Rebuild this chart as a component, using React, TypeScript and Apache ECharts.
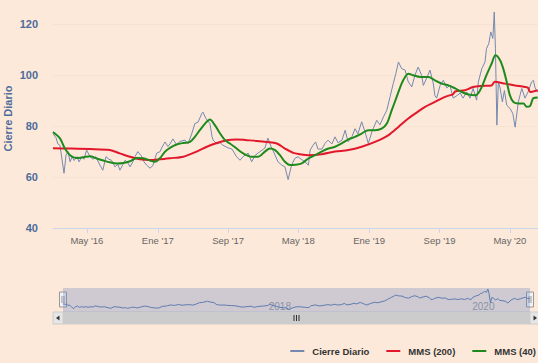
import React, { useEffect, useRef } from 'react';
import * as echarts from 'echarts';

const closeData: [string, number][] = [
  ['2016-01-05', 77], ['2016-01-15', 75.5], ['2016-01-22', 73], ['2016-01-29', 72.5],
  ['2016-02-05', 67], ['2016-02-12', 61.5], ['2016-02-19', 68.6], ['2016-02-26', 70],
  ['2016-03-04', 66], ['2016-03-11', 68], ['2016-03-18', 66.5], ['2016-03-28', 68],
  ['2016-04-04', 66], ['2016-04-14', 68], ['2016-04-21', 67], ['2016-04-30', 70.6],
  ['2016-05-12', 68], ['2016-05-22', 67], ['2016-06-01', 68], ['2016-06-15', 64.7],
  ['2016-06-25', 62.7], ['2016-07-06', 68], ['2016-07-16', 67], ['2016-07-25', 66.6],
  ['2016-08-06', 64], ['2016-08-16', 65], ['2016-08-23', 62.7], ['2016-09-03', 65],
  ['2016-09-10', 66.6], ['2016-09-20', 65.5], ['2016-09-27', 64], ['2016-10-07', 66],
  ['2016-10-14', 68], ['2016-10-24', 70], ['2016-11-04', 68.5], ['2016-11-14', 66],
  ['2016-11-23', 64.7], ['2016-12-05', 63.5], ['2016-12-15', 64.5], ['2016-12-28', 69.4],
  ['2017-01-09', 70], ['2017-01-14', 71.4], ['2017-01-26', 73.8], ['2017-02-05', 72],
  ['2017-02-12', 73], ['2017-02-22', 75], ['2017-03-07', 72.7], ['2017-03-18', 74],
  ['2017-04-05', 74.5], ['2017-04-15', 73], ['2017-04-28', 77], ['2017-05-09', 81],
  ['2017-05-20', 81.6], ['2017-06-02', 85], ['2017-06-06', 85.5], ['2017-06-16', 83],
  ['2017-06-30', 81], ['2017-07-07', 76], ['2017-07-11', 74.5], ['2017-07-24', 73],
  ['2017-08-04', 73.5], ['2017-08-14', 72.5], ['2017-08-31', 71.5], ['2017-09-14', 71],
  ['2017-09-30', 68], ['2017-10-12', 66.6], ['2017-10-22', 68], ['2017-11-09', 69.4],
  ['2017-11-21', 66], ['2017-12-03', 68.5], ['2017-12-20', 70], ['2018-01-06', 71.4],
  ['2018-01-16', 75.3], ['2018-01-27', 72], ['2018-02-10', 68.6], ['2018-02-20', 66],
  ['2018-03-05', 64.7], ['2018-03-16', 64], ['2018-03-27', 59], ['2018-04-08', 64.7],
  ['2018-04-19', 67.3], ['2018-04-30', 68], ['2018-05-11', 67], ['2018-05-24', 66],
  ['2018-06-05', 64.7], ['2018-06-11', 70.6], ['2018-06-21', 72.5], ['2018-06-30', 73.8],
  ['2018-07-08', 71], ['2018-07-22', 71], ['2018-08-01', 73.2], ['2018-08-12', 74.5],
  ['2018-08-25', 73], ['2018-09-05', 75.8], ['2018-09-15', 73.5], ['2018-09-29', 74.5],
  ['2018-10-10', 78.4], ['2018-10-20', 73.8], ['2018-11-03', 76], ['2018-11-13', 79],
  ['2018-11-23', 77], ['2018-12-06', 81.7], ['2018-12-17', 78], ['2018-12-29', 73.2],
  ['2019-01-11', 78], ['2019-01-27', 82.3], ['2019-02-07', 80.5], ['2019-02-19', 83.6],
  ['2019-03-03', 86.3], ['2019-03-14', 91.5], ['2019-03-25', 96.7], ['2019-04-03', 100.6],
  ['2019-04-12', 105.2], ['2019-04-23', 102.6], ['2019-05-05', 102], ['2019-05-16', 97.4],
  ['2019-05-28', 95.4], ['2019-06-08', 100], ['2019-06-19', 103.2], ['2019-07-01', 100],
  ['2019-07-07', 96], ['2019-07-19', 99], ['2019-07-30', 102], ['2019-08-10', 97],
  ['2019-08-16', 92], ['2019-08-22', 91], ['2019-09-03', 96], ['2019-09-14', 98],
  ['2019-09-26', 95], ['2019-10-07', 96], ['2019-10-18', 91], ['2019-10-31', 92],
  ['2019-11-11', 93], ['2019-11-21', 91], ['2019-12-04', 93.4], ['2019-12-15', 91],
  ['2019-12-26', 94.8], ['2020-01-07', 90.2], ['2020-01-13', 97.4], ['2020-01-25', 102.6],
  ['2020-02-05', 105.2], ['2020-02-10', 110.4], ['2020-02-18', 112.4], ['2020-02-25', 117],
  ['2020-03-03', 114.4], ['2020-03-08', 124.8], ['2020-03-12', 110.4], ['2020-03-17', 80.4],
  ['2020-03-22', 97.4], ['2020-03-28', 95], ['2020-04-05', 89.5], ['2020-04-12', 94],
  ['2020-04-20', 88.2], ['2020-05-01', 87], ['2020-05-11', 85], ['2020-05-19', 79.6],
  ['2020-05-30', 89.5], ['2020-06-11', 94.8], ['2020-06-22', 91], ['2020-07-03', 93.5],
  ['2020-07-15', 97.4], ['2020-07-21', 98], ['2020-07-27', 95], ['2020-08-05', 93.4],
];

const mms200Data: [string, number][] = [
  ['2016-01-05', 71.3], ['2016-03-04', 71.2], ['2016-05-12', 71], ['2016-07-19', 70.6],
  ['2016-08-23', 69.3], ['2016-09-27', 68], ['2016-10-31', 67], ['2016-12-05', 66.7],
  ['2017-01-09', 67], ['2017-02-12', 67.4], ['2017-03-30', 68], ['2017-05-15', 70],
  ['2017-06-19', 71.9], ['2017-07-24', 73.4], ['2017-08-27', 74.5], ['2017-09-30', 74.8],
  ['2017-11-04', 74.5], ['2017-12-09', 74.2], ['2018-01-12', 73.8], ['2018-02-16', 73.2],
  ['2018-03-16', 71.2], ['2018-04-14', 69.5], ['2018-05-07', 69], ['2018-06-05', 68.6],
  ['2018-07-21', 69], ['2018-09-05', 70], ['2018-10-21', 70.6], ['2018-12-06', 71.9],
  ['2019-01-21', 73.8], ['2019-03-09', 76.5], ['2019-04-12', 79.7], ['2019-05-16', 83],
  ['2019-06-26', 86.3], ['2019-07-13', 87.6], ['2019-08-16', 89.5], ['2019-09-20', 91.5],
  ['2019-10-18', 92.6], ['2019-10-25', 93.6], ['2019-11-28', 94.1], ['2019-12-26', 95.4],
  ['2020-01-25', 95.8], ['2020-02-28', 96], ['2020-03-10', 97.4], ['2020-04-14', 96.7],
  ['2020-05-19', 96], ['2020-06-22', 95.4], ['2020-07-03', 95], ['2020-07-10', 93.4],
  ['2020-08-05', 94.1],
];

const mms40Data: [string, number][] = [
  ['2016-01-05', 77.7], ['2016-01-29', 75.2], ['2016-02-15', 71.2], ['2016-03-04', 68.6],
  ['2016-03-26', 67.5], ['2016-04-19', 67.8], ['2016-05-12', 68.2], ['2016-06-04', 67.3],
  ['2016-06-27', 66.5], ['2016-07-19', 65.8], ['2016-08-13', 65.3], ['2016-09-04', 65.5],
  ['2016-09-27', 66.2], ['2016-10-20', 67.5], ['2016-11-12', 67.4], ['2016-12-05', 66.5],
  ['2016-12-22', 66], ['2017-01-09', 67.5], ['2017-01-26', 70], ['2017-02-12', 71.5],
  ['2017-03-07', 72.8], ['2017-03-30', 73.4], ['2017-04-22', 73.8], ['2017-05-09', 75.8],
  ['2017-05-26', 78.4], ['2017-06-13', 81], ['2017-06-30', 82.6], ['2017-07-17', 80.4],
  ['2017-08-04', 77.1], ['2017-08-21', 74.5], ['2017-09-07', 73.2], ['2017-09-30', 71.2],
  ['2017-10-23', 69.3], ['2017-11-21', 68], ['2017-12-14', 68], ['2018-01-06', 70],
  ['2018-01-23', 71.2], ['2018-02-10', 70.6], ['2018-02-27', 68.6], ['2018-03-16', 66],
  ['2018-04-03', 64.7], ['2018-04-19', 64.8], ['2018-05-13', 65.4], ['2018-06-05', 67.3],
  ['2018-06-28', 68.6], ['2018-07-21', 70], ['2018-08-13', 71.2], ['2018-09-05', 71.9],
  ['2018-09-28', 73.2], ['2018-10-21', 74.8], ['2018-11-13', 75.8], ['2018-12-06', 77.1],
  ['2018-12-29', 78.4], ['2019-01-21', 78.4], ['2019-02-13', 79], ['2019-03-03', 81],
  ['2019-03-20', 86.3], ['2019-04-06', 91.5], ['2019-04-23', 96.7], ['2019-05-05', 99.3],
  ['2019-05-16', 100.6], ['2019-06-02', 100], ['2019-06-26', 99.3], ['2019-07-25', 99.3],
  ['2019-08-16', 98], ['2019-09-09', 96.7], ['2019-10-02', 96], ['2019-10-25', 94.8],
  ['2019-11-17', 93.4], ['2019-12-10', 92.4], ['2020-01-02', 92.1], ['2020-01-13', 93],
  ['2020-01-25', 95.4], ['2020-02-10', 100], ['2020-02-28', 104.6], ['2020-03-12', 107.8],
  ['2020-03-28', 105.9], ['2020-04-08', 102.6], ['2020-04-20', 97.4], ['2020-05-01', 92.1],
  ['2020-05-13', 89.5], ['2020-05-30', 88.9], ['2020-06-17', 88.9], ['2020-06-28', 87.6],
  ['2020-07-10', 88], ['2020-07-21', 91], ['2020-08-05', 91.2],
];

const xTickDates = ['2016-05-01', '2017-01-01', '2017-09-01', '2018-05-01', '2019-01-01', '2019-09-01', '2020-05-01'];
const xTickLabels = ["May '16", "Ene '17", "Sep '17", "May '18", "Ene '19", "Sep '19", "May '20"];
const navTickDates = ['2018-01-01', '2020-01-01'];
const navTickLabels = ['2018', '2020'];
const seriesNames = ['Cierre Diario', 'MMS (200)', 'MMS (40)'];
const yMin = 40;
const yMax = 126;
const yInterval = 20;
const xStart = '2016-01-05';
const xEnd = '2020-08-06';

const T = (s: string) => {
  const [y, m, d] = s.split('-').map(Number);
  return Date.UTC(y, m - 1, d);
};
const toPts = (arr: [string, number][]) => arr.map(([d, v]) => [T(d), v]);

const BG = '#fde9d9';
const CLOSE_C = '#7389b0';
const RED_C = '#e3172c';
const GREEN_C = '#1e8a1e';
const AXIS_C = '#4d6c9b';

export default function App() {
  const ref = useRef<HTMLDivElement>(null);
  useEffect(() => {
    if (!ref.current) return;
    const chart = echarts.init(ref.current, undefined, { renderer: 'svg' });
    const xTicks = xTickDates.map(T);
    const navTicks = navTickDates.map(T);
    const findLabel = (v: number, ticks: number[], labels: string[]) => {
      let best = -1, bd = Infinity;
      ticks.forEach((t, i) => { const dd = Math.abs(t - v); if (dd < bd) { bd = dd; best = i; } });
      return bd < 86400000 * 2 ? labels[best] : '';
    };
    const navL = 63, navR = 530, navTop = 288, navH = 24, sbTop = 312, sbH = 12;
    const handle = (cx: number) => ({
      type: 'group',
      children: [
        { type: 'rect', shape: { x: cx - 3.5, y: 292, width: 7, height: 15 }, style: { fill: '#f2f2f2', stroke: '#999', lineWidth: 1 } },
        { type: 'line', shape: { x1: cx - 1, y1: 296, x2: cx - 1, y2: 303 }, style: { stroke: '#999', lineWidth: 1 } },
        { type: 'line', shape: { x1: cx + 1, y1: 296, x2: cx + 1, y2: 303 }, style: { stroke: '#999', lineWidth: 1 } },
      ],
    });
    const gx = (navL + navR) / 2;
    const option: any = {
      animation: false,
      backgroundColor: BG,
      textStyle: { fontFamily: '"Liberation Sans", Arial, sans-serif' },
      legend: {
        data: seriesNames,
        top: 341,
        right: -3,
        icon: 'rect',
        itemWidth: 14,
        itemHeight: 2,
        itemGap: 17,
        textStyle: { fontSize: 9.5, fontWeight: 'bold', color: '#333', padding: [0, 0, 0, 3] },
      },
      grid: [
        { left: 53, right: 0, top: 9, height: 219, outerBoundsMode: 'none', containLabel: false },
        { left: navL, width: navR - navL, top: navTop, height: navH, outerBoundsMode: 'none', containLabel: false },
      ],
      xAxis: [
        {
          type: 'value',
          gridIndex: 0,
          min: T(xStart),
          max: T(xEnd),
          axisLine: { lineStyle: { color: '#ccd6eb', width: 1 } },
          axisTick: { show: true, length: 5, lineStyle: { color: '#ccd6eb' }, customValues: xTicks },
          axisLabel: {
            customValues: xTicks,
            color: '#666',
            fontSize: 9.5,
            margin: 7,
            formatter: (v: number) => findLabel(v, xTicks, xTickLabels),
          },
          splitLine: { show: false },
        },
        {
          type: 'value',
          gridIndex: 1,
          min: T(xStart),
          max: T(xEnd),
          axisLine: { show: false },
          axisTick: { show: false },
          axisLabel: {
            customValues: navTicks,
            inside: true,
            margin: 1,
            align: 'left',
            padding: [0, 0, 0, 3],
            color: '#999',
            fontSize: 10,
            formatter: (v: number) => findLabel(v, navTicks, navTickLabels),
          },
          splitLine: { show: false },
        },
      ],
      yAxis: [
        {
          type: 'value',
          gridIndex: 0,
          min: yMin,
          max: yMax,
          interval: yInterval,
          name: 'Cierre Diario',
          nameLocation: 'middle',
          nameGap: 40,
          nameMoveOverlap: false,
          nameTextStyle: { color: AXIS_C, fontWeight: 'bold', fontSize: 11 },
          axisLine: { show: false },
          axisTick: { show: false },
          axisLabel: { color: AXIS_C, fontWeight: 'bold', fontSize: 11, margin: 15, showMaxLabel: false },
          splitLine: { show: true, showMaxLine: false, lineStyle: { color: '#f8e3d3', width: 1 } },
        },
        {
          type: 'value',
          gridIndex: 1,
          min: 51,
          max: 128,
          show: false,
          splitLine: { show: false },
        },
      ],
      series: [
        {
          name: seriesNames[0], type: 'line', xAxisIndex: 0, yAxisIndex: 0,
          data: toPts(closeData), showSymbol: false, symbol: 'none',
          lineStyle: { color: CLOSE_C, width: 1 }, itemStyle: { color: CLOSE_C },
        },
        {
          name: seriesNames[1], type: 'line', xAxisIndex: 0, yAxisIndex: 0,
          data: toPts(mms200Data), showSymbol: false, symbol: 'none', smooth: 0.3,
          lineStyle: { color: RED_C, width: 2 }, itemStyle: { color: RED_C },
        },
        {
          name: seriesNames[2], type: 'line', xAxisIndex: 0, yAxisIndex: 0,
          data: toPts(mms40Data), showSymbol: false, symbol: 'none', smooth: 0.3,
          lineStyle: { color: GREEN_C, width: 2 }, itemStyle: { color: GREEN_C },
        },
        {
          name: 'navigator', type: 'line', xAxisIndex: 1, yAxisIndex: 1,
          data: toPts(closeData), showSymbol: false, symbol: 'none', silent: true,
          lineStyle: { color: '#5f7cb0', width: 1 },
          markArea: {
            silent: true,
            itemStyle: { color: 'rgba(102,133,194,0.3)' },
            data: [[{ xAxis: T(xStart) }, { xAxis: T(xEnd) }]],
          },
        },
      ],
      graphic: [
        { type: 'rect', shape: { x: navL, y: sbTop, width: navR - navL, height: sbH }, style: { fill: '#cccccc', stroke: '#cccccc' } },
        { type: 'rect', shape: { x: 53, y: sbTop, width: navL - 53, height: sbH }, style: { fill: '#e6e6e6', stroke: '#cccccc' } },
        { type: 'rect', shape: { x: navR, y: sbTop, width: 10, height: sbH }, style: { fill: '#e6e6e6', stroke: '#cccccc' } },
        { type: 'polygon', shape: { points: [[59.5, 315.5], [59.5, 320.5], [56, 318]] }, style: { fill: '#333' } },
        { type: 'polygon', shape: { points: [[533.5, 315.5], [533.5, 320.5], [537, 318]] }, style: { fill: '#333' } },
        { type: 'line', shape: { x1: gx - 2.5, y1: 315, x2: gx - 2.5, y2: 321 }, style: { stroke: '#333', lineWidth: 1 } },
        { type: 'line', shape: { x1: gx, y1: 315, x2: gx, y2: 321 }, style: { stroke: '#333', lineWidth: 1 } },
        { type: 'line', shape: { x1: gx + 2.5, y1: 315, x2: gx + 2.5, y2: 321 }, style: { stroke: '#333', lineWidth: 1 } },
        handle(navL),
        handle(navR),
      ],
    };
    chart.setOption(option);
    return () => chart.dispose();
  }, []);
  return (
    <div
      ref={ref}
      style={{ position: 'absolute', left: 0, top: 0, width: 538, height: 363, background: BG }}
    />
  );
}
